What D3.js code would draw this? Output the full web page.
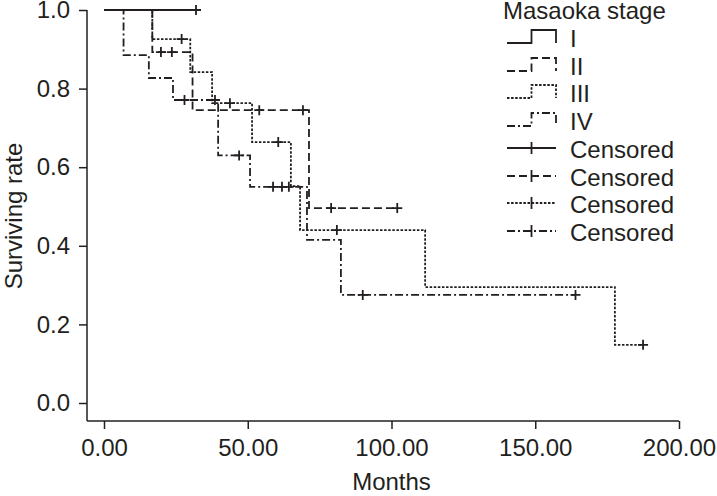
<!DOCTYPE html>
<html>
<head>
<meta charset="utf-8">
<script src="https://cdn.jsdelivr.net/npm/d3@7"></script>
<style>
html,body{margin:0;padding:0;background:#fff;}
svg{display:block;}
text{font-family:"Liberation Sans",Arial,sans-serif;fill:#231f20;}
</style>
</head>
<body>
<svg id="chart" width="717" height="496"></svg>
<script>
// ---- data ----
const xTicks = [0, 50, 100, 150, 200];
const yTicks = [0, 0.2, 0.4, 0.6, 0.8, 1.0];
const stages = ["I", "II", "III", "IV"];

// step times (month of each level start) and survival levels
const timesI = [0];
const survI = [1.0];
const endI = 32;
const censI = [32];

const timesII = [0, 16.8, 30.8, 71.3];
const survII = [1.0, 0.893, 0.745, 0.496];
const endII = 102;
const censII = [19.8, 23.6, 54.0, 69.2, 79.0, 102];

const timesIII = [0, 16.8, 30.0, 37.6, 51.5, 65.0, 68.2, 111.7, 177.7];
const survIII = [1.0, 0.926, 0.842, 0.763, 0.664, 0.552, 0.44, 0.295, 0.148];
const endIII = 187.5;
const censIII = [27.0, 43.8, 60.6, 81.0, 187.5];

const timesIV = [0, 6.8, 15.6, 24.0, 39.7, 50.8, 70.6, 82.4];
const survIV = [1.0, 0.885, 0.827, 0.771, 0.63, 0.55, 0.415, 0.275];
const endIV = 164;
const censIV = [28.0, 38.6, 47.0, 58.8, 61.9, 64.3, 90.0, 164];

// ---- drawing ----
const svg = d3.select("#chart");
const ink = "#231f20";
const x = d3.scaleLinear().domain([0, 200]).range([104, 679]);
const y = d3.scaleLinear().domain([0, 1]).range([403, 10]);
const axisLeftX = 87, axisBottomY = 421;

const dashes = ["none", "8,4", "2.5,1.6", "8,3,2,3"];
const groups = [
  {t: timesI, s: survI, end: endI, c: censI},
  {t: timesII, s: survII, end: endII, c: censII},
  {t: timesIII, s: survIII, end: endIII, c: censIII},
  {t: timesIV, s: survIV, end: endIV, c: censIV}
];

// axes
const xAxis = d3.axisBottom(x).tickValues(xTicks).tickFormat(d3.format(".2f")).tickSize(8).tickPadding(10);
const gx = svg.append("g").attr("transform", `translate(0,${axisBottomY})`).call(xAxis);
gx.select(".domain").attr("d", `M${axisLeftX},0H${x(200)}`);
const yAxis = d3.axisLeft(y).tickValues(yTicks).tickFormat(d3.format(".1f")).tickSize(8).tickPadding(9);
const gy = svg.append("g").attr("transform", `translate(${axisLeftX},0)`).call(yAxis);
gy.select(".domain").attr("d", `M0,${y(1)}V${axisBottomY}`);
svg.selectAll(".domain,.tick line").attr("stroke", ink).attr("stroke-width", 1.5);
svg.selectAll(".tick text").attr("font-size", 24).attr("fill", ink)
  .style("font-family", '"Liberation Sans",Arial,sans-serif');

// titles
svg.append("text").attr("x", 391.5).attr("y", 490).attr("text-anchor", "middle")
  .attr("font-size", 24).text("Months");
svg.append("text").attr("transform", "translate(22,216) rotate(-90)").attr("text-anchor", "middle")
  .attr("font-size", 24).text("Surviving rate");

// curves
const line = d3.line().x(d => x(d[0])).y(d => y(d[1])).curve(d3.curveStepAfter);
function levelAt(g, tm) {
  let v = g.s[0];
  g.t.forEach((tt, i) => { if (tm >= tt) v = g.s[i]; });
  return v;
}
groups.forEach((g, i) => {
  const pts = g.t.map((tt, k) => [tt, g.s[k]]);
  pts.push([g.end, g.s[g.s.length - 1]]);
  svg.append("path").attr("d", line(pts)).attr("fill", "none")
    .attr("stroke", ink).attr("stroke-width", 1.8)
    .attr("stroke-dasharray", dashes[i]);
  g.c.forEach(ct => {
    const cx = x(ct), cy = y(levelAt(g, ct));
    svg.append("path").attr("d", `M${cx - 5},${cy}H${cx + 5}M${cx},${cy - 5}V${cy + 5}`)
      .attr("stroke", ink).attr("stroke-width", 1.8).attr("fill", "none");
  });
});

// legend
const lg = svg.append("g");
lg.append("text").attr("x", 503).attr("y", 18.5).attr("font-size", 24).text("Masaoka stage");
const rowY = [38, 66, 93, 121, 149, 177, 204, 232];
stages.forEach((st, i) => {
  const c = rowY[i];
  lg.append("path").attr("d", `M507,${c + 5}H531.5V${c - 8}H556V${c + 5}`)
    .attr("fill", "none").attr("stroke", ink).attr("stroke-width", 1.8)
    .attr("stroke-dasharray", dashes[i]);
  lg.append("text").attr("x", 570).attr("y", c + 8.5).attr("font-size", 24).text(st);
});
stages.forEach((st, i) => {
  const c = rowY[4 + i] - 1;
  lg.append("path").attr("d", `M507,${c}H556`)
    .attr("fill", "none").attr("stroke", ink).attr("stroke-width", 1.8)
    .attr("stroke-dasharray", dashes[i]);
  lg.append("path").attr("d", `M531.5,${c - 6}V${c + 6}`)
    .attr("stroke", ink).attr("stroke-width", 1.8);
  lg.append("text").attr("x", 570).attr("y", c + 9.5).attr("font-size", 24).text("Censored");
});
</script>
</body>
</html>
